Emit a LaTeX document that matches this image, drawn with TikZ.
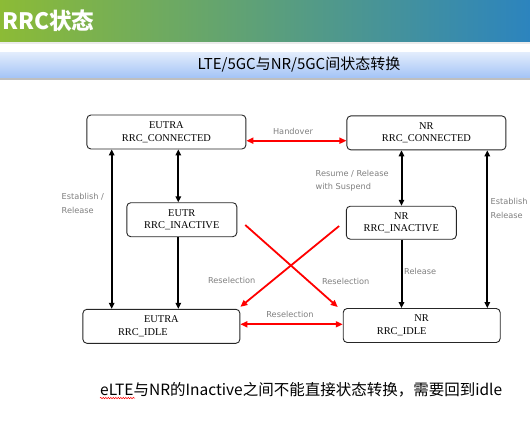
\documentclass[tikz,border=0pt]{standalone}
\usepackage{fontspec}
\setmainfont{Liberation Serif}
\newfontfamily\cjk{Noto Sans CJK SC}
\newfontfamily\lbl{DejaVu Sans}
\usepackage{xcolor}
\usetikzlibrary{arrows.meta, positioning, decorations.pathmorphing}

\definecolor{barleft}{HTML}{8CBB36}
\definecolor{barright}{HTML}{2C84BE}
\definecolor{bandtop}{HTML}{E2ECFC}
\definecolor{bandbot}{HTML}{A4C4F6}
\definecolor{lblgray}{HTML}{7F7F7F}

\begin{document}
\begin{tikzpicture}[x=1pt, y=-1pt,
    state/.style={rectangle, rounded corners=4pt, draw=black!85, line width=0.9pt, fill=white,
      align=center, inner sep=0pt, font=\fontsize{10.4}{12.7}\selectfont},
    blk/.style={line width=2pt, -{Triangle[length=6pt,width=5.5pt]}},
    blkboth/.style={line width=2pt, {Triangle[length=6pt,width=5.5pt]}-{Triangle[length=6pt,width=5.5pt]}},
    redarr/.style={red, line width=1.8pt, -{Triangle[length=7pt,width=6pt]}},
    redboth/.style={red, line width=1.8pt, {Triangle[length=7pt,width=6pt]}-{Triangle[length=7pt,width=6pt]}},
    tag/.style={text=lblgray, align=left, inner sep=0pt, font=\lbl\fontsize{8.2}{13.4}\selectfont}
  ]
  \useasboundingbox (0,0) rectangle (530,426);

  % header bars
  \shade[left color=barleft, right color=barright] (0,0) rectangle (530,42);
  \fill[black!8] (0,42) rectangle (530,43.5);
  \shade[top color=bandtop, bottom color=bandbot] (0,52.5) rectangle (530,77.5);
  \fill[black!25] (0,77.5) rectangle (530,79.5);
  \node[anchor=west, text=white, inner sep=0pt, font=\cjk\bfseries\fontsize{22.6}{22.6}\selectfont] (title) at (2,21) {RRC状态};
  \node[inner sep=0pt, font=\cjk\fontsize{15}{15}\selectfont] (subtitle) at (299,64.5) {LTE/5GC与NR/5GC间状态转换};

  % states
  \node[state, minimum width=159pt, minimum height=34pt] (ecn) at (166.4,132) {EUTRA\\RRC\_CONNECTED};
  \node[state, minimum width=110pt, minimum height=34pt] (ein) at (181.8,219.7) {EUTR\\RRC\_INACTIVE};
  \node[state, minimum width=157pt, minimum height=34pt] (eid) at (161.4,326.3) {EUTRA\\RRC\_IDLE\hspace*{37pt}};
  \node[state, minimum width=159pt, minimum height=34pt] (ncn) at (426.4,132.9) {NR\\RRC\_CONNECTED};
  \node[state, minimum width=110pt, minimum height=33pt] (nin) at (401.3,222.7) {NR\\RRC\_INACTIVE};
  \node[state, minimum width=157pt, minimum height=34pt] (nid) at (421.7,325.5) {NR\\RRC\_IDLE\hspace*{40pt}};

  % columns of the vertical arrows
  \coordinate (lx) at (111.7,0);
  \coordinate (mx) at (178.3,0);
  \coordinate (rx) at (401.5,0);
  \coordinate (fx) at (487.3,0);

  \draw[blkboth] (ecn.south -| lx) -- (eid.north -| lx);
  \draw[blkboth] (ecn.south -| mx) -- (ein.north -| mx);
  \draw[blk] (ein.south -| mx) -- (eid.north -| mx);
  \draw[blkboth] (ncn.south -| rx) -- (nin.north -| rx);
  \draw[blk] (nin.south -| rx) -- (nid.north -| rx);
  \draw[blkboth] (ncn.south -| fx) -- (nid.north -| fx);

  % red transitions
  \path ([yshift=-8.7pt]ecn.east) coordinate (h1);
  \draw[redboth] (h1) -- (h1 -| ncn.west);
  \path ([yshift=2pt]eid.east) coordinate (r1);
  \draw[redboth] (r1) -- (r1 -| nid.west);
  \draw[redarr] ([xshift=8pt,yshift=-5.3pt]ein.east) -- ([xshift=-5pt,yshift=1pt]nid.north west);
  \draw[redarr] ([xshift=-6.7pt,yshift=-3.3pt]nin.west) -- ([yshift=2pt]eid.north east);

  % labels
  \node[tag] at (293,131.7) {Handover};
  \node[tag] at (290,314.3) {Reselection};
  \node[tag] at (231.7,280) {Reselection};
  \node[tag] at (345.7,281.7) {Reselection};
  \node[tag, anchor=west] at (404,271.7) {Release};
  \node[tag, anchor=west] at (61.5,203.4) {Establish /\\Release};
  \node[tag, anchor=west] at (315.5,180.5) {Resume / Release\\with Suspend};
  \node[tag, anchor=west] at (490.5,208.4) {Establish\\Release};

  % note
  \node[anchor=west, inner sep=0pt, font=\cjk\fontsize{15.5}{15.5}\selectfont] (note) at (100,389.3)
    {eLTE与NR的Inactive之间不能直接状态转换，需要回到idle};
  \draw[red, line width=0.5pt, decorate, decoration={snake, amplitude=0.7pt, segment length=2.5pt}]
    ([yshift=-3pt]note.base west) -- ++(35,0);
\end{tikzpicture}
\end{document}
